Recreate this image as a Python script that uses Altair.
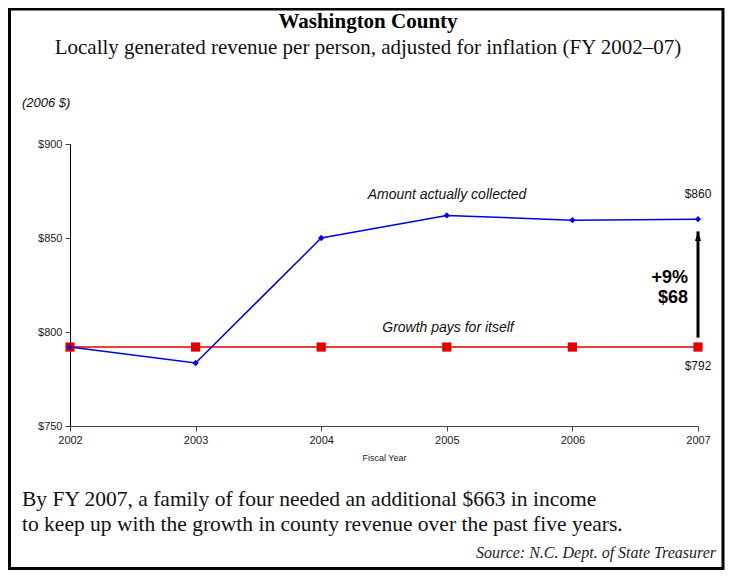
import altair as alt
import pandas as pd

years = [2002, 2003, 2004, 2005, 2006, 2007]
collected = [792, 783.5, 850, 862, 859.5, 860]
growth_pays = [792, 792, 792, 792, 792, 792]
y_ticks = [750, 800, 850, 900]
x_ticks = years
arrow_year = 2007
arrow_from = 797
arrow_to = 853.5
end_labels = ["$860", "$792"]
end_values = [860, 792]
change_labels = ["+9%", "$68"]

title = "Washington County"
subtitle = "Locally generated revenue per person, adjusted for inflation (FY 2002\u201307)"
unit_note = "(2006 $)"
series_names = ["Amount actually collected", "Growth pays for itself"]
footnote = [
    "By FY 2007, a family of four needed an additional $663 in income",
    "to keep up with the growth in county revenue over the past five years.",
]
source = "Source: N.C. Dept. of State Treasurer"

BLUE = "#0000e6"
RED = "#e00000"

df = pd.DataFrame({"year": years, "collected": collected, "growth": growth_pays})

xs = alt.Scale(domain=[2002, 2007], nice=False, zero=False)
ys = alt.Scale(domain=[750, 900], nice=False, zero=False)

x_enc = alt.X("year:Q", scale=xs,
              axis=alt.Axis(values=x_ticks, format="d", title="Fiscal Year", labelFlush=False,
                            grid=False, tickSize=5, labelPadding=3, titlePadding=8,
                            titleFont="Liberation Sans", titleFontSize=9,
                            titleFontWeight="normal", domainColor="#444", tickColor="#444"))
y_axis = alt.Axis(values=y_ticks, format="$d", title=None, grid=False, tickSize=5,
                  labelPadding=3, domainColor="#000", tickColor="#444")

base = alt.Chart(df)

red_line = base.mark_line(color=RED, strokeWidth=1.5).encode(
    x=x_enc, y=alt.Y("growth:Q", scale=ys, axis=y_axis))
blue_line = base.mark_line(color=BLUE, strokeWidth=1.5).encode(
    x=alt.X("year:Q", scale=xs), y=alt.Y("collected:Q", scale=ys))
red_pts = base.mark_point(shape="square", filled=True, color=RED, size=85, opacity=1).encode(
    x=alt.X("year:Q", scale=xs), y=alt.Y("growth:Q", scale=ys))
blue_pts = base.mark_point(shape="diamond", filled=True, color=BLUE, size=40, opacity=1).encode(
    x=alt.X("year:Q", scale=xs), y=alt.Y("collected:Q", scale=ys))

end_df = pd.DataFrame({"year": [2007, 2007], "v": end_values, "t": end_labels})
end_top = alt.Chart(end_df.iloc[[0]]).mark_text(font="Liberation Sans", fontSize=12, color="#111", dy=-25).encode(
    x=alt.X("year:Q", scale=xs), y=alt.Y("v:Q", scale=ys), text="t:N")
end_bot = alt.Chart(end_df.iloc[[1]]).mark_text(font="Liberation Sans", fontSize=12, color="#111", dy=19).encode(
    x=alt.X("year:Q", scale=xs), y=alt.Y("v:Q", scale=ys), text="t:N")

arrow_df = pd.DataFrame({"year": [arrow_year], "a": [arrow_from], "b": [arrow_to]})
arrow_line = alt.Chart(arrow_df).mark_rule(color="black", strokeWidth=3).encode(
    x=alt.X("year:Q", scale=xs), y=alt.Y("a:Q", scale=ys), y2="b:Q")
arrow_head = alt.Chart(arrow_df).mark_point(
    shape="M-0.6,1.9 L0,0 L0.6,1.9 Z", filled=True, color="black", size=100, opacity=1).encode(
    x=alt.X("year:Q", scale=xs), y=alt.Y("b:Q", scale=ys))


def txt(s, px, py, **kw):
    return alt.Chart(pd.DataFrame({"t": [s]})).mark_text(**kw).encode(
        x=alt.value(px), y=alt.value(py), text="t:N")


border = alt.Chart(pd.DataFrame({"t": [0]})).mark_rect(
    filled=False, stroke="black", strokeWidth=3).encode(
    x=alt.value(-60.5), x2=alt.value(653), y=alt.value(-135), y2=alt.value(424.5))

layers = [
    border,
    red_line, blue_line, red_pts, blue_pts, end_top, end_bot, arrow_line, arrow_head,
    txt(title, 298, -122, font="Liberation Serif", fontSize=21, fontWeight="bold", color="#000", baseline="middle", align="center"),
    txt(subtitle, 298, -96, font="Liberation Serif", fontSize=21, color="#111", baseline="middle", align="center"),
    txt(unit_note, -48, -41, font="Liberation Sans", fontSize=13, fontStyle="italic", color="#111", baseline="middle", align="left"),
    txt(series_names[0], 377, 51, font="Liberation Sans", fontSize=14, fontStyle="italic", color="#111", baseline="middle", align="center"),
    txt(series_names[1], 378, 184, font="Liberation Sans", fontSize=14, fontStyle="italic", color="#111", baseline="middle", align="center"),
    txt(change_labels[0], 618, 134, font="Liberation Sans", fontSize=18, fontWeight="bold", color="#000", baseline="middle", align="right"),
    txt(change_labels[1], 618, 154, font="Liberation Sans", fontSize=18, fontWeight="bold", color="#000", baseline="middle", align="right"),
    txt(footnote[0], -48, 356, font="Liberation Serif", fontSize=21.5, color="#111", baseline="middle", align="left"),
    txt(footnote[1], -48, 381, font="Liberation Serif", fontSize=21.5, color="#111", baseline="middle", align="left"),
    txt(source, 646, 409, font="Liberation Serif", fontSize=16, fontStyle="italic", color="#222", baseline="middle", align="right"),
]

chart = alt.layer(*layers).properties(
    width=628, height=282,
    padding={"left": 62, "top": 136, "right": 27, "bottom": 145},
    autosize=alt.AutoSizeParams(type="none"),
    background="white",
).configure_view(strokeWidth=0).configure_axis(
    labelFont="Liberation Sans", labelFontSize=11, labelColor="#222",
    titleColor="#222",
)

chart.save("out.html", embed_options={"renderer": "svg", "actions": False})
